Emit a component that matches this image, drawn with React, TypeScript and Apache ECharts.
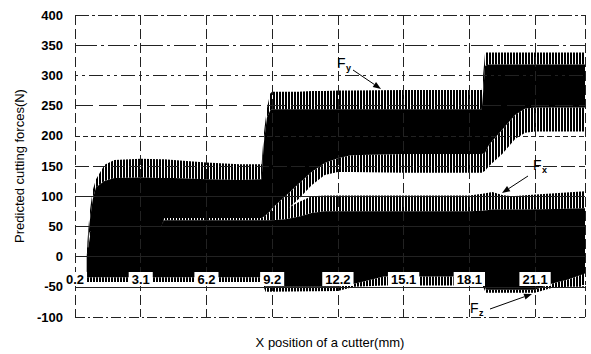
import React, { useEffect, useRef } from 'react';
import * as echarts from 'echarts';

// x axis: category-like positions, tick k sits at position k
const tickLabels = ['0.2', '3.1', '6.2', '9.2', '12.2', '15.1', '18.1', '21.1'];
const xMax = 7.76;

// Fy envelope (N)
const fyX = [0.18, 0.22, 0.27, 0.32, 0.45, 0.6, 1.0, 1.3, 1.36, 1.5, 2.0, 2.5, 2.84, 2.87, 2.92, 2.97, 3.0, 3.2, 3.4, 3.6, 3.8, 4.0, 4.2, 5.0, 6.0, 6.19, 6.24, 6.3, 6.5, 6.7, 6.85, 7.0, 7.76];
const fyPeakHigh = [10, 70, 110, 128, 152, 160, 162, 161, 161, 160, 156, 153, 153, 200, 245, 270, 273, 273, 273, 274, 274, 275, 275, 276, 276, 276, 338, 338, 338, 338, 338, 338, 338];
const fySolidHigh = [0, 55, 95, 115, 125, 130, 131, 130, 130, 130, 128, 127, 128, 185, 230, 242, 244, 244, 244, 244, 244, 244, 244, 244, 244, 244, 316, 318, 318, 318, 318, 318, 318];
const fySolidLow = [0, 40, 45, 45, 45, 45, 45, 45, 64, 64, 64, 64, 64, 66, 70, 75, 80, 100, 120, 140, 155, 163, 168, 170, 170, 170, 172, 185, 210, 235, 245, 247, 247];
const fyPeakLow = [0, 30, 40, 40, 40, 40, 40, 40, 60, 60, 60, 60, 60, 61, 62, 63, 65, 75, 95, 118, 135, 140, 140, 139, 139, 139, 142, 150, 170, 195, 205, 207, 207];

// Fx envelope (N)
const fxX = [0.18, 0.25, 0.4, 1.3, 1.36, 2.84, 2.9, 3.0, 3.2, 3.4, 3.6, 3.8, 5.0, 6.0, 6.2, 6.35, 6.5, 6.65, 6.9, 7.3, 7.76];
const fxPeakHigh = [0, 50, 50, 50, 60, 60, 64, 70, 78, 90, 100, 101, 101, 101, 104, 107, 102, 100, 102, 105, 108];
const fxSolidHigh = [0, 48, 48, 48, 60, 60, 60, 60, 62, 66, 72, 75, 75, 75, 76, 78, 78, 78, 78, 79, 80];
const fxSolidLow = [-25, -25, -25, -25, -25, -25, -25, -25, -25, -25, -25, -25, -25, -25, -25, -25, -25, -25, -25, -25, -25];
const fxPeakLow = [-30, -30, -30, -30, -30, -30, -30, -30, -30, -30, -30, -30, -30, -30, -30, -30, -30, -30, -30, -30, -30];

// Fz envelope (N)
const fzX = [0.18, 0.3, 1.0, 2.84, 2.9, 4.0, 4.25, 4.7, 6.2, 6.25, 7.0, 7.25, 7.5, 7.76];
const fzPeakHigh = [15, 15, 15, 15, 15, 15, 15, 15, 15, 15, 15, 15, 15, 15];
const fzSolidHigh = [5, 5, 5, 5, 5, 5, 5, 5, 5, 5, 5, 5, 5, 5];
const fzSolidLow = [-34, -34, -34, -34, -50, -50, -45, -33, -33, -55, -55, -45, -38, -28];
const fzPeakLow = [-42, -42, -42, -42, -58, -57, -50, -48, -48, -60, -60, -52, -50, -50];

const FONT = '"Liberation Sans", Arial, Helvetica, sans-serif';

function arrow(x1: number, y1: number, x2: number, y2: number) {
  const dx = x2 - x1, dy = y2 - y1;
  const L = Math.sqrt(dx * dx + dy * dy);
  const ux = dx / L, uy = dy / L;
  const hl = 8, hw = 3;
  const bx = x2 - ux * hl, by = y2 - uy * hl;
  return [
    { type: 'line', shape: { x1, y1, x2: bx, y2: by }, style: { stroke: '#000', lineWidth: 1 }, z: 20 },
    {
      type: 'polygon',
      shape: { points: [[x2, y2], [bx - uy * hw, by + ux * hw], [bx + uy * hw, by - ux * hw]] },
      style: { fill: '#000' },
      z: 20,
    },
  ];
}

function label(main: string, sub: string, x: number, y: number) {
  return [
    { type: 'text', x, y, style: { text: main, font: `14px ${FONT}`, fill: '#000' }, z: 20 },
    { type: 'text', x: x + 9, y: y + 7, style: { text: sub, font: `bold 9px ${FONT}`, fill: '#000' }, z: 20 },
  ];
}

export default function App() {
  const ref = useRef<HTMLDivElement>(null);
  useEffect(() => {
    if (!ref.current) return;
    const chart = echarts.init(ref.current, null, { renderer: 'svg' });

    const c = document.createElement('canvas');
    c.width = 3;
    c.height = 8;
    const ctx = c.getContext('2d')!;
    ctx.fillStyle = '#fff';
    ctx.fillRect(0, 0, 3, 8);
    ctx.fillStyle = '#000';
    ctx.fillRect(0, 0, 2, 8);
    const stripe: any = { image: c, repeat: 'repeat' };

    const band = (xs: number[], up: number[], low: number[], fill: any, z: number) => ({
      type: 'custom',
      silent: true,
      z,
      data: [[0, 0]],
      renderItem: (_p: any, api: any) => {
        const pts: number[][] = [];
        for (let i = 0; i < xs.length; i++) pts.push(api.coord([xs[i], up[i]]));
        for (let i = xs.length - 1; i >= 0; i--) pts.push(api.coord([xs[i], low[i]]));
        return { type: 'polygon', shape: { points: pts }, style: { fill, stroke: null } };
      },
    });

    const hLine = (v: number, type: any) => ({
      yAxis: v,
      lineStyle: { type, color: '#222', width: 1 },
    });

    chart.setOption({
      animation: false,
      backgroundColor: '#fff',
      grid: { left: 75, right: 2, top: 15, bottom: 36 },
      xAxis: {
        type: 'value',
        min: 0,
        max: xMax,
        interval: 1,
        z: 10,
        axisLine: { show: false },
        axisTick: { show: false },
        splitLine: { show: true, lineStyle: { color: '#222', type: [10, 4], width: 1 } },
        axisLabel: {
          inside: true,
          margin: 31,
          formatter: (v: number) => {
            const k = Math.round(v);
            return Math.abs(v - k) < 1e-6 && tickLabels[k] !== undefined ? tickLabels[k] : '';
          },
          color: '#000',
          fontFamily: FONT,
          fontSize: 13,
          fontWeight: 'bold',
          backgroundColor: '#fff',
          padding: [1, 3, 0, 3],
        },
        name: 'X position of a cutter(mm)',
        nameLocation: 'middle',
        nameGap: 19,
        nameTextStyle: { color: '#000', fontFamily: FONT, fontSize: 13 },
      },
      yAxis: {
        type: 'value',
        min: -100,
        max: 400,
        interval: 50,
        axisLine: { show: false },
        axisTick: { show: false },
        splitLine: { show: false },
        axisLabel: { color: '#000', fontFamily: FONT, fontSize: 13, fontWeight: 'bold', margin: 12 },
        name: 'Predicted cutting forces(N)',
        nameLocation: 'middle',
        nameGap: 49,
        nameTextStyle: { color: '#000', fontFamily: FONT, fontSize: 13 },
      },
      series: [
        {
          type: 'line',
          data: [],
          z: 1,
          markLine: {
            silent: true,
            symbol: 'none',
            label: { show: false },
            data: [
              hLine(400, [14, 3, 3, 3]),
              hLine(350, [22, 4, 3, 4]),
              hLine(300, [3, 4, 3, 4, 14, 4]),
              hLine(250, [18, 6]),
              hLine(200, [5, 3]),
              hLine(150, [14, 4]),
              hLine(100, 'solid'),
              hLine(50, 'solid'),
              hLine(0, 'solid'),
              hLine(-50, 'solid'),
              hLine(-100, [10, 3, 2, 3]),
            ],
          },
        },
        // striped fringes (individual force peaks)
        band(fyX, fyPeakHigh, fySolidHigh, stripe, 3),
        band(fyX, fySolidLow, fyPeakLow, stripe, 3),
        band(fxX, fxPeakHigh, fxSolidHigh, stripe, 3),
        band(fxX, fxSolidLow, fxPeakLow, stripe, 3),
        band(fzX, fzPeakHigh, fzSolidHigh, stripe, 3),
        band(fzX, fzSolidLow, fzPeakLow, stripe, 3),
        // dense cores
        band(fyX, fySolidHigh, fySolidLow, '#000', 4),
        band(fxX, fxSolidHigh, fxSolidLow, '#000', 4),
        band(fzX, fzSolidHigh, fzSolidLow, '#000', 4),
      ],
      graphic: [
        ...label('F', 'y', 337, 56),
        ...arrow(353, 70, 381, 89),
        ...label('F', 'x', 533, 158),
        ...arrow(528, 176, 502, 193),
        ...label('F', 'z', 470, 301),
        ...arrow(490, 309, 532, 294),
      ],
    });
    return () => chart.dispose();
  }, []);
  return <div ref={ref} style={{ position: 'absolute', left: 0, top: 0, width: 591, height: 354 }} />;
}
